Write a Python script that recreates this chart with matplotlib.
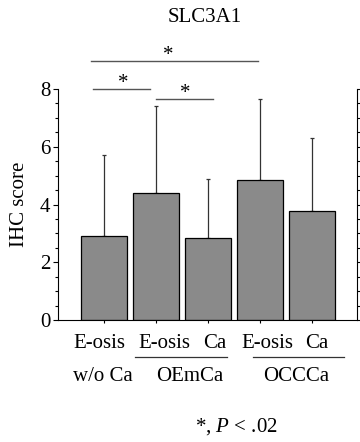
import matplotlib
matplotlib.use("Agg")
import matplotlib.pyplot as plt
from matplotlib.ticker import MultipleLocator

plt.rcParams['font.family'] = ['Liberation Serif', 'DejaVu Serif']
plt.rcParams['mathtext.fontset'] = 'custom'
plt.rcParams['mathtext.rm'] = 'Liberation Serif'
plt.rcParams['mathtext.it'] = 'Liberation Serif:italic'

title = "SLC3A1"
ylabel = "IHC score"
means = [2.92, 4.41, 2.83, 4.85, 3.79]
sds = [2.79, 3.00, 2.05, 2.79, 2.52]
row1_labels = ["E-osis", "E-osis", "Ca", "E-osis", "Ca"]
row1_x = [-0.08, 1.17, 2.12, 3.15, 4.10]
row2_labels = ["w/o Ca", "OEmCa", "OCCCa"]
row2_x = [-0.02, 1.65, 3.69]
group_spans = [(0.60, 2.37), (2.87, 4.62)]
sig_pairs = [(-0.25, 2.96, 8.97, 1.23), (-0.21, 0.88, 8.00, 0.37), (1.00, 2.10, 7.65, 1.56)]
footnote = r"*, $\it{P}$ < .02"

W, H = 360, 442
fig = plt.figure(figsize=(W / 100, H / 100), dpi=100)
ax = fig.add_axes([58 / W, 1 - 320 / H, (357 - 58) / W, (320 - 89) / H])

x = list(range(len(means)))
ax.bar(x, means, width=0.885, color='#8a8a8a', edgecolor='black', linewidth=0.9, zorder=2)
ax.errorbar(x, means, yerr=[[0] * len(sds), sds], fmt='none', ecolor='#333333',
            elinewidth=0.9, capsize=1.6, capthick=0.9, zorder=1)

ax.set_xlim(-0.885, 4.865)
ax.set_ylim(0, 8)
ax.set_yticks([0, 2, 4, 6, 8])
ax.yaxis.set_minor_locator(MultipleLocator(0.5))
ax.set_xticks(x)
ax.set_xticklabels([])
ax.tick_params(axis='y', which='major', direction='out', length=3.5, width=0.8,
               labelsize=15, pad=2, right=True, labelright=False)
ax.tick_params(axis='y', which='minor', direction='out', length=2.5, width=0.8, right=True)
ax.tick_params(axis='x', which='major', direction='out', length=2, width=0.8)
ax.spines['top'].set_visible(False)
for s in ['left', 'bottom', 'right']:
    ax.spines[s].set_linewidth(0.8)

ax.set_ylabel(ylabel, fontsize=15)
ax.yaxis.set_label_coords(-0.098, 0.5)

fig.text(205 / W, 1 - 17 / H, title, fontsize=15, ha='center', va='center')

for lab, xx in zip(row1_labels, row1_x):
    ax.text(xx, -0.83, lab, fontsize=15, ha='center', va='center', clip_on=False)
for lab, xx in zip(row2_labels, row2_x):
    ax.text(xx, -1.95, lab, fontsize=15, ha='center', va='center', clip_on=False)
for a, b in group_spans:
    ax.plot([a, b], [-1.28, -1.28], color='#333333', lw=0.9, clip_on=False)

for a, b, yy, sx in sig_pairs:
    ax.plot([a, b], [yy, yy], color='#555555', lw=1.0, clip_on=False)
    ax.text(sx, yy + 0.05, "*", fontsize=15, ha='center', va='baseline', clip_on=False)

fig.text(236 / W, 1 - 427 / H, footnote, fontsize=15, ha='center', va='center')

fig.savefig("out.png", dpi=100)
